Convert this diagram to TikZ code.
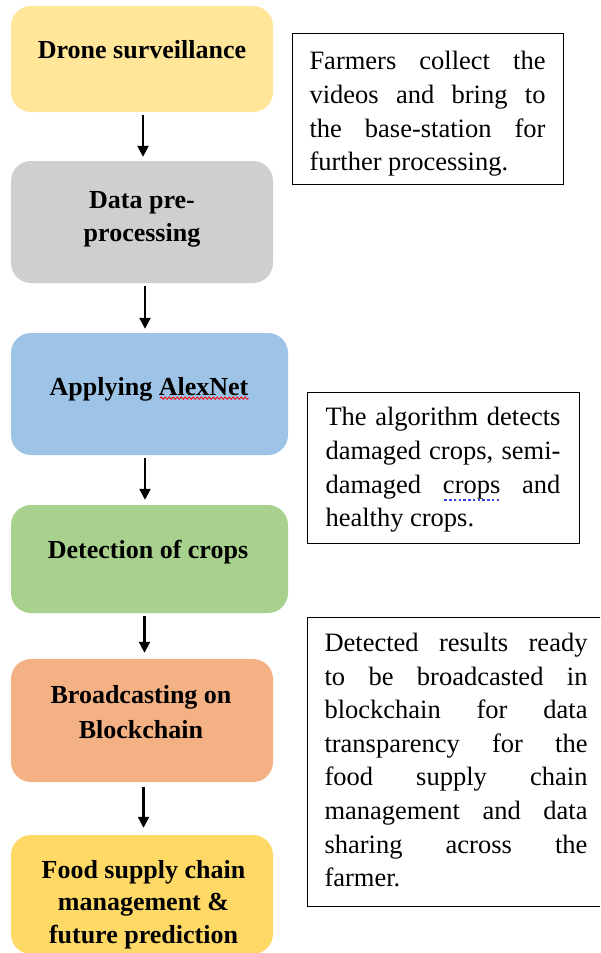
\documentclass[tikz,border=0pt]{standalone}
\usepackage{fontspec}
\setmainfont{Liberation Serif}
\usetikzlibrary{arrows.meta,decorations.pathmorphing}
\definecolor{cyel}{HTML}{FFE699}
\definecolor{cgray}{HTML}{D0CECE}
\definecolor{cblue}{HTML}{9DC3E6}
\definecolor{cgreen}{HTML}{A9D18E}
\definecolor{corange}{HTML}{F4B183}
\definecolor{cgold}{HTML}{FFD966}
\definecolor{dotblue}{HTML}{4040E8}
\newcommand\jl[2]{\hbox to #1{#2}}
\newcommand\dotul[1]{\setbox0=\hbox{#1}\rlap{\color{dotblue}\raisebox{-7.5pt}{\hbox to\wd0{\xleaders\hbox to 4.5pt{\hss\vrule width 2.5pt height 1.8pt\hss}\hfil}}}\box0\relax}
\begin{document}
\begin{tikzpicture}[x=1pt,y=-1pt,
  stagebox/.style={rectangle, rounded corners=20pt, draw=none, inner sep=0pt},
  stagelabel/.style={inner sep=0pt, align=center, font=\fontsize{26}{34}\selectfont\bfseries},
  note/.style={rectangle, draw=black, line width=1pt, inner sep=0pt},
  notetext/.style={inner sep=0pt, font=\fontsize{26.5}{33.6}\selectfont},
  arr/.style={-{Triangle[length=11pt,width=11pt]}, line width=2.2pt, shorten <=2.5pt, shorten >=4pt}]
\useasboundingbox (0,0) rectangle (600,953);
\clip (0,0) rectangle (600,953);
\fill[white] (0,0) rectangle (600,953);

% stage boxes
\node[stagebox, fill=cyel, minimum width=262pt, minimum height=106pt] (b1) at (142,59) {};
\node[stagebox, fill=cgray, minimum width=262pt, minimum height=122pt] (b2) at (142,222) {};
\node[stagebox, fill=cblue, minimum width=277pt, minimum height=122pt] (b3) at (149.5,394) {};
\node[stagebox, fill=cgreen, minimum width=277pt, minimum height=108pt] (b4) at (149.5,559) {};
\node[stagebox, fill=corange, minimum width=262pt, minimum height=123pt] (b5) at (142,720.5) {};
\node[stagebox, fill=cgold, minimum width=262pt, minimum height=119pt] (b6) at (142,894.5) {};

% stage labels
\node[stagelabel] (l1) at (142,50) {Drone surveillance};
\node[stagelabel, font=\fontsize{26}{33}\selectfont\bfseries] (l2) at (142,219.5) {Data pre-\\processing};
\node[stagelabel] (l3) at (149,389) {Applying AlexNet};
\node[stagelabel] (l4) at (148,552) {Detection of crops};
\node[stagelabel, font=\fontsize{26}{35}\selectfont\bfseries] (l5) at (141,711.7) {Broadcasting on\\Blockchain};
\node[stagelabel, font=\fontsize{26}{32.5}\selectfont\bfseries] (l6) at (143.5,904.5) {Food supply chain\\management \&\\future prediction};

% spell-check wave under AlexNet
\draw[red, line width=0.8pt, decorate, decoration={snake, amplitude=1.2pt, segment length=4pt}] ([yshift=-3pt]l3.base east) -- ([xshift=-89pt,yshift=-3pt]l3.base east);

% arrows
\draw[arr] ([xshift=1pt]b1.south) -- ([xshift=1pt]b1.south |- b2.north);
\draw[arr] ([xshift=3pt]b2.south) -- ([xshift=3pt]b2.south |- b3.north);
\draw[arr, shorten >=5pt] ([xshift=-4.5pt]b3.south) -- ([xshift=-4.5pt]b3.south |- b4.north);
\draw[arr, shorten >=6pt] ([xshift=-5pt]b4.south) -- ([xshift=-5pt]b4.south |- b5.north);
\draw[arr, shorten <=4.5pt, shorten >=7pt] ([xshift=1.5pt]b5.south) -- ([xshift=1.5pt]b5.south |- b6.north);

% note boxes
\node[note, minimum width=271pt, minimum height=151pt] (na) at (427.5,108.5) {};
\node[notetext] (ta) at (427.5,114) {\vbox{%
\jl{236pt}{Farmers collect the}%
\jl{236pt}{videos and bring to}%
\jl{236pt}{the base-station for}%
\jl{236pt}{further processing.\hfil}}};

\node[note, minimum width=272pt, minimum height=151pt] (nb) at (443,467.5) {};
\node[notetext] (tb) at (443,470) {\vbox{%
\jl{235pt}{The algorithm detects}%
\jl{235pt}{damaged crops, semi-}%
\jl{235pt}{damaged \dotul{crops} and}%
\jl{235pt}{healthy crops.\hfil}}};

\node[note, minimum width=299pt, minimum height=289pt] (nc) at (456.5,761.5) {};
\node[notetext] (tc) at (456,760) {\vbox{%
\jl{263pt}{Detected results ready}%
\jl{263pt}{to be broadcasted in}%
\jl{263pt}{blockchain for data}%
\jl{263pt}{transparency for the}%
\jl{263pt}{food supply chain}%
\jl{263pt}{management and data}%
\jl{263pt}{sharing across the}%
\jl{263pt}{farmer.\hfil}}};
\end{tikzpicture}
\end{document}
